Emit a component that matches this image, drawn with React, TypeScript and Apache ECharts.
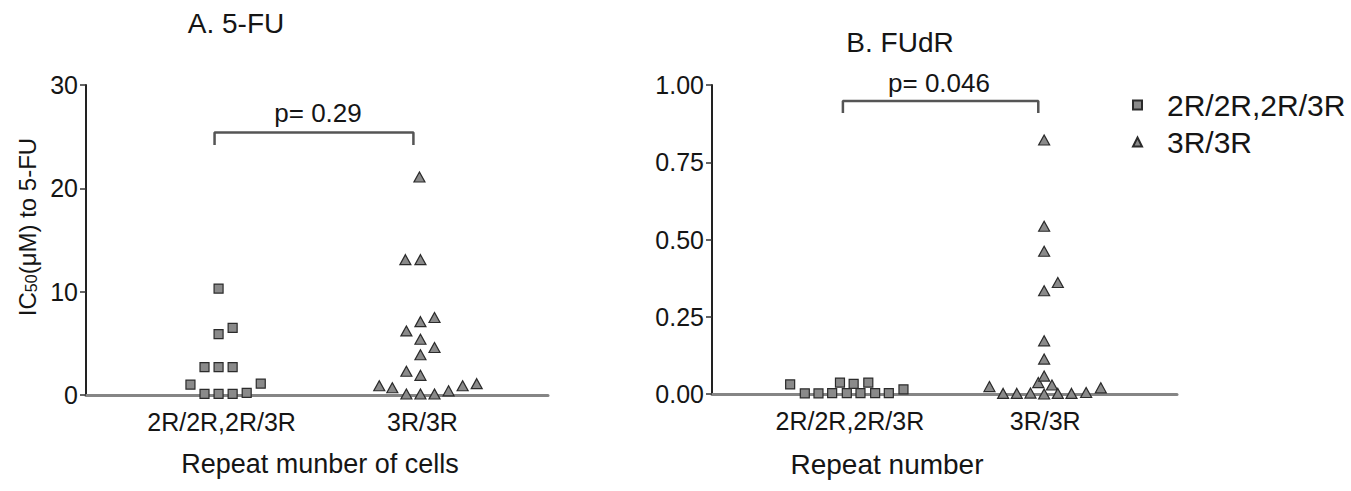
import React, { useEffect, useRef } from "react";
import * as echarts from "echarts";

// ---- data ----
const catLabels = ["2R/2R,2R/3R", "3R/3R"];
const seriesNames = ["2R/2R,2R/3R", "3R/3R"];

// Panel A: IC50 (µM) to 5-FU   [x position (category 1/2 + jitter), value]
const fuSquares: [number, number][] = [
  [0.87, 1.0], [1.01, 10.3], [1.01, 5.9], [1.08, 6.5],
  [0.94, 2.7], [1.01, 2.7], [1.08, 2.7], [1.22, 1.1],
  [0.94, 0.1], [1.01, 0.1], [1.08, 0.1], [1.15, 0.2],
];
const fuTriangles: [number, number][] = [
  [1.81, 0.9], [1.875, 0.7], [1.945, 0.1], [2.015, 0.1], [2.085, 0.1],
  [2.155, 0.4], [2.225, 0.9], [2.295, 1.1],
  [1.945, 2.3], [2.015, 1.9], [2.015, 3.9], [2.085, 4.6], [2.015, 5.4],
  [1.945, 6.2], [2.015, 7.1], [2.085, 7.5],
  [1.94, 13.1], [2.015, 13.1], [2.01, 21.1],
];

// Panel B: FUdR
const fudrSquares: [number, number][] = [
  [0.72, 0.031], [0.795, 0.002], [0.865, 0.002], [0.935, 0.003],
  [0.975, 0.037], [1.01, 0.003], [1.045, 0.033], [1.08, 0.003],
  [1.12, 0.037], [1.155, 0.003], [1.225, 0.003], [1.30, 0.015],
];
const fudrTriangles: [number, number][] = [
  [1.74, 0.024], [1.81, 0.002], [1.88, 0.002], [1.95, 0.003], [1.99, 0.037],
  [2.02, 0.822], [2.02, 0.543], [2.02, 0.462], [2.02, 0.334], [2.09, 0.361],
  [2.02, 0.172], [2.02, 0.113], [2.02, 0.058], [2.06, 0.029], [2.02, 0.0],
  [2.09, 0.002], [2.16, 0.002], [2.235, 0.005], [2.31, 0.02],
];

// significance brackets: [x, y] path in data units
const bracketA: [number, number][] = [[0.99, 24.2], [0.99, 25.4], [1.98, 25.4], [1.98, 24.2]];
const bracketB: [number, number][] = [[0.99, 0.909], [0.99, 0.948], [1.99, 0.948], [1.99, 0.909]];
const pLabels = ["p= 0.29", "p= 0.046"];
const titles = ["A. 5-FU", "B. FUdR"];
const xTitles = ["Repeat munber of cells", "Repeat number"];

const FONT = "'Liberation Sans', Arial, Helvetica, sans-serif";
const TXT = "#151515";
const FILL = "#8a8a8a";
const EDGE = "#2b2b2b";

export default function App() {
  const ref = useRef<HTMLDivElement>(null);
  useEffect(() => {
    if (!ref.current) return;
    const chart = echarts.init(ref.current, null, { renderer: "svg" });

    const xAxisBase = (min: number, max: number, idx: number) => ({
      type: "value",
      gridIndex: idx,
      min,
      max,
      axisLine: { show: true, onZero: false, lineStyle: { color: "#858585", width: 3 } },
      axisTick: { show: false },
      splitLine: { show: false },
      axisLabel: {
        customValues: [1, 2],
        formatter: (v: number) => catLabels[Math.round(v) - 1] ?? "",
        fontSize: 25,
        fontFamily: FONT,
        color: TXT,
        margin: 14,
        padding: [0, 0, 0, 10],
      },
    });

    const yAxisBase = (max: number, interval: number, idx: number, fmt: (v: number) => string) => ({
      type: "value",
      gridIndex: idx,
      min: 0,
      max,
      interval,
      axisLine: { show: true, onZero: false, lineStyle: { color: "#222", width: 2 } },
      axisTick: { show: true, length: 6, lineStyle: { color: "#333", width: 1.5 } },
      splitLine: { show: false },
      axisLabel: { fontSize: 25, fontFamily: FONT, color: TXT, margin: 8, formatter: fmt },
    });

    const sq = (data: [number, number][], idx: number) => ({
      type: "scatter",
      name: seriesNames[0],
      xAxisIndex: idx,
      yAxisIndex: idx,
      data,
      symbol: "rect",
      symbolSize: 9,
      clip: false,
      itemStyle: { color: FILL, borderColor: EDGE, borderWidth: 1.2, opacity: 1 },
      z: 5,
    });
    const tri = (data: [number, number][], idx: number) => ({
      type: "scatter",
      name: seriesNames[1],
      xAxisIndex: idx,
      yAxisIndex: idx,
      data,
      symbol: "triangle",
      symbolSize: [11, 10],
      clip: false,
      itemStyle: { color: FILL, borderColor: EDGE, borderWidth: 1.2, opacity: 1 },
      z: 5,
    });
    const bracket = (data: [number, number][], idx: number) => ({
      type: "line",
      xAxisIndex: idx,
      yAxisIndex: idx,
      data,
      symbol: "none",
      silent: true,
      clip: false,
      lineStyle: { color: "#555", width: 2.5 },
      z: 3,
    });

    const txt = (text: string, x: number, y: number, size: number, extra: any = {}) => ({
      type: "text",
      x,
      y,
      silent: true,
      style: {
        text,
        fontSize: size,
        fontFamily: FONT,
        fill: TXT,
        align: "center",
        verticalAlign: "middle",
        ...extra,
      },
    });

    chart.setOption({
      animation: false,
      backgroundColor: "#ffffff",
      grid: [
        { left: 86, top: 85, width: 462, height: 310 },
        { left: 712, top: 85, width: 465, height: 309 },
      ],
      xAxis: [xAxisBase(0.35, 2.65, 0), xAxisBase(0.32, 2.7, 1)],
      yAxis: [
        yAxisBase(30, 10, 0, (v: number) => String(v)),
        yAxisBase(1, 0.25, 1, (v: number) => v.toFixed(2)),
      ],
      legend: {
        orient: "vertical",
        left: 1127,
        top: 85,
        itemGap: 7,
        itemWidth: 9,
        itemHeight: 9,
        data: seriesNames,
        textStyle: { fontSize: 30, fontFamily: FONT, color: TXT, padding: [0, 0, 0, 20] },
        selectedMode: false,
      },
      series: [
        sq(fuSquares, 0),
        tri(fuTriangles, 0),
        bracket(bracketA, 0),
        sq(fudrSquares, 1),
        tri(fudrTriangles, 1),
        bracket(bracketB, 1),
      ],
      graphic: [
        txt(titles[0], 236, 23, 28),
        txt(titles[1], 900, 42, 28),
        txt(pLabels[0], 318, 113, 26),
        txt(pLabels[1], 939, 83, 26),
        txt(xTitles[0], 320, 464, 27),
        txt(xTitles[1], 887, 464, 28),
        {
          type: "text",
          x: 27,
          y: 227,
          rotation: Math.PI / 2,
          silent: true,
          style: {
            text: "IC{sub|50}(μM) to 5-FU",
            fontSize: 24,
            fontFamily: FONT,
            fill: TXT,
            align: "center",
            verticalAlign: "middle",
            rich: {
              sub: { fontSize: 16, fontFamily: FONT, fill: TXT, verticalAlign: "bottom", padding: [6, 0, 0, 0] },
            },
          },
        },
      ],
    });
    return () => chart.dispose();
  }, []);
  return (
    <div
      ref={ref}
      style={{ position: "fixed", left: 0, top: 0, width: 1351, height: 491, background: "#fff" }}
    />
  );
}
